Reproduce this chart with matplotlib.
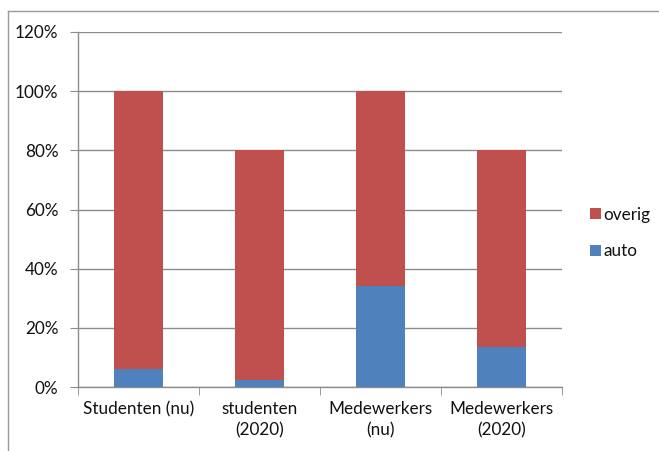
import matplotlib
matplotlib.use("Agg")
import matplotlib.pyplot as plt
from matplotlib.lines import Line2D
from matplotlib.ticker import FixedLocator, PercentFormatter
import numpy as np

categories = ["Studenten (nu)", "studenten\n(2020)", "Medewerkers\n(nu)", "Medewerkers\n(2020)"]
auto = [6.0, 2.4, 34.0, 13.4]
overig = [94.0, 77.6, 66.0, 66.6]
series_names = ["auto", "overig"]
colors = {"auto": "#4F81BD", "overig": "#C0504D"}

plt.rcParams["font.family"] = ["Lato", "DejaVu Sans"]

W, H = 659, 451
fig = plt.figure(figsize=(W / 100, H / 100), dpi=100)
ax = fig.add_axes([78 / W, 1 - 387 / H, (562 - 78) / W, (387 - 32) / H])

x = np.arange(len(categories))
ax.bar(x, auto, width=0.4, color=colors["auto"], label="auto", zorder=3)
ax.bar(x, overig, width=0.4, bottom=auto, color=colors["overig"], label="overig", zorder=3)

ax.set_xlim(-0.5, len(categories) - 0.5)
ax.set_ylim(0, 120)
ax.set_yticks(np.arange(0, 121, 20))
ax.yaxis.set_major_formatter(PercentFormatter(decimals=0))
ax.yaxis.grid(True, color="#8c8c8c", linewidth=1.0, zorder=0)
ax.set_xticks(x)
ax.set_xticklabels(categories, fontsize=12.3, linespacing=1.45, color="#111111")
ax.xaxis.set_minor_locator(FixedLocator(np.arange(-0.5, len(categories), 1.0)))
ax.tick_params(axis="x", which="major", length=0, pad=10)
ax.tick_params(axis="x", which="minor", length=6, color="#8c8c8c", direction="out")
ax.tick_params(axis="y", length=6, color="#8c8c8c", labelsize=12.3, pad=8, labelcolor="#111111")
for side in ["top", "right"]:
    ax.spines[side].set_visible(False)
for side in ["left", "bottom"]:
    ax.spines[side].set_color("#8c8c8c")
    ax.spines[side].set_linewidth(1.0)

handles, labels = ax.get_legend_handles_labels()
leg = ax.legend(handles[::-1], labels[::-1], loc="center left",
                bbox_to_anchor=(590 / W, 1 - 233 / H), bbox_transform=fig.transFigure,
                frameon=False, fontsize=12.3, handlelength=0.65, handleheight=0.65,
                handletextpad=0.15, labelspacing=1.2, borderpad=0, borderaxespad=0)
for t in leg.get_texts():
    t.set_color("#111111")

# outer chart frame (top and left edges visible)
fig.add_artist(Line2D([8 / W, 1], [1 - 11 / H, 1 - 11 / H], transform=fig.transFigure,
                      color="#9a9a9a", linewidth=1.0))
fig.add_artist(Line2D([8 / W, 8 / W], [0, 1 - 11 / H], transform=fig.transFigure,
                      color="#9a9a9a", linewidth=1.0))

fig.savefig("out.png", dpi=100)
